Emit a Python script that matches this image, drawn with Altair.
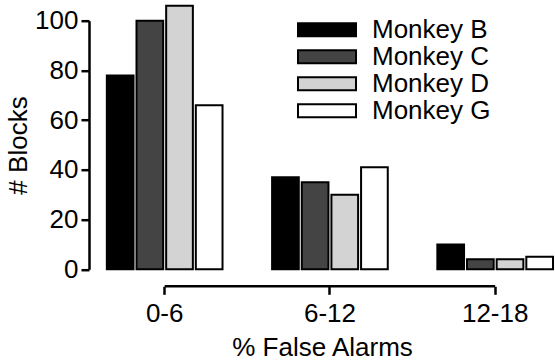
import altair as alt
import pandas as pd

categories = ["0-6", "6-12", "12-18"]
monkeys = ["Monkey B", "Monkey C", "Monkey D", "Monkey G"]
monkey_b = [78, 37, 10]
monkey_c = [100, 35, 4]
monkey_d = [106, 30, 4]
monkey_g = [66, 41, 5]
colors = ["#000000", "#444444", "#d3d3d3", "#ffffff"]
y_ticks = [0, 20, 40, 60, 80, 100]

rows = []
for m, vals in zip(monkeys, [monkey_b, monkey_c, monkey_d, monkey_g]):
    for c, v in zip(categories, vals):
        rows.append({"bin": c, "monkey": m, "blocks": v})
df = pd.DataFrame(rows)
rule_df = pd.DataFrame({"bin": [categories[0]], "end": [categories[-1]]})

W, H = 466, 248.6
OFF = 17
FONT = "Liberation Sans"

x_scale = alt.Scale(domain=categories, paddingInner=0.3, paddingOuter=0.06, align=0.9)
x_axis = alt.Axis(title="% False Alarms", labelAngle=0, domain=False, offset=OFF,
                  tickSize=8, tickWidth=2.5, tickColor="black",
                  labelPadding=6, titlePadding=8, grid=False)

bars = alt.Chart(df).mark_bar(stroke="black", strokeWidth=2).encode(
    x=alt.X("bin:N", scale=x_scale, sort=categories, axis=x_axis),
    xOffset=alt.XOffset("monkey:N", sort=monkeys,
                        scale=alt.Scale(paddingInner=0.1, paddingOuter=0)),
    y=alt.Y("blocks:Q", scale=alt.Scale(domain=[0, 100], nice=False),
            axis=alt.Axis(values=y_ticks, title="# Blocks", grid=False,
                          domainWidth=2.5, domainColor="black",
                          tickSize=8, tickWidth=2.5, tickColor="black",
                          labelPadding=3, titlePadding=3)),
    color=alt.Color("monkey:N", sort=monkeys,
                    scale=alt.Scale(domain=monkeys, range=colors),
                    legend=alt.Legend(title=None, orient="none",
                                      legendX=208, legendY=-3.5,
                                      symbolType="M-1,-0.224H1V0.224H-1Z",
                                      symbolSize=3364,
                                      symbolStrokeColor="black",
                                      symbolStrokeWidth=2,
                                      labelFontSize=26, labelFont=FONT,
                                      labelColor="black",
                                      labelOffset=15, clipHeight=25,
                                      rowPadding=0, padding=0)),
)

rule = alt.Chart(rule_df).mark_rule(color="black", strokeWidth=2.5).encode(
    x=alt.X("bin:N", scale=x_scale, sort=categories, axis=x_axis),
    x2="end:N",
    y=alt.value(H + OFF),
)

chart = alt.layer(bars, rule).properties(
    width=W, height=H,
    autosize=alt.AutoSizeParams(type="none"),
    padding={"left": 89, "top": 20.7, "right": 0, "bottom": 364 - 20.7 - H},
    background="white",
).configure_view(stroke=None).configure_axis(
    labelFont=FONT, titleFont=FONT, labelFontSize=26, titleFontSize=26,
    labelColor="black", titleColor="black", titleFontWeight="normal",
)

chart.save("out.html", embed_options={"renderer": "svg", "actions": False})
